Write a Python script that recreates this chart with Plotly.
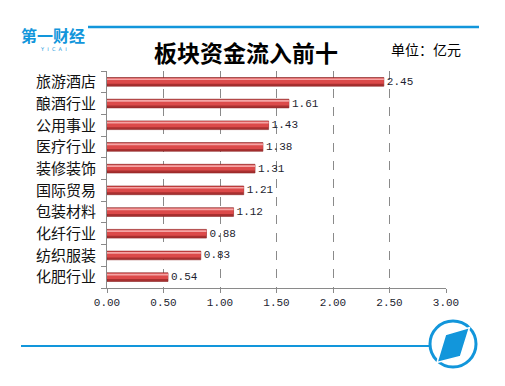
import plotly.graph_objects as go

categories = ["旅游酒店", "酿酒行业", "公用事业", "医疗行业", "装修装饰",
              "国际贸易", "包装材料", "化纤行业", "纺织服装", "化肥行业"]
values = [2.45, 1.61, 1.43, 1.38, 1.31, 1.21, 1.12, 0.88, 0.83, 0.54]
x_ticks = [0, 0.5, 1.0, 1.5, 2.0, 2.5, 3.0]
x_tick_labels = ["0.00", "0.50", "1.00", "1.50", "2.00", "2.50", "3.00"]

# bottom-to-top order for the category axis
cats_plot = categories[::-1]
vals_plot = values[::-1]

W, H = 505, 386
L, R, T, B = 107, 59, 71, 98
PW, PH = W - L - R, H - T - B


def px(xp):
    return (xp - L) / PW


def py(yp):
    return (H - B - yp) / PH


BLUE = "#1296db"
MONO = "Liberation Mono, DejaVu Sans Mono, monospace"
CJK = "Noto Sans CJK SC, sans-serif"

fig = go.Figure()
# dark base of the cylinder-like bar
fig.add_trace(go.Bar(
    y=cats_plot, x=vals_plot, orientation="h",
    width=0.40, offset=-0.20,
    marker=dict(color="#a83030", line=dict(color="#8a2424", width=0.6)),
    text=[f"{v:.2f}" for v in vals_plot], textposition="outside",
    constraintext="none",
    textfont=dict(family=MONO, size=11, color="#1e1e30"),
    cliponaxis=False, hoverinfo="skip", showlegend=False,
))
# main red body
fig.add_trace(go.Bar(
    y=cats_plot, x=vals_plot, orientation="h",
    width=0.27, offset=-0.09,
    marker=dict(color="#dc4a4a", line=dict(width=0)),
    hoverinfo="skip", showlegend=False,
))
# light highlight near the top
fig.add_trace(go.Bar(
    y=cats_plot, x=vals_plot, orientation="h",
    width=0.08, offset=0.08,
    marker=dict(color="#f4a4a4", line=dict(width=0)),
    hoverinfo="skip", showlegend=False,
))

fig.update_layout(
    width=W, height=H,
    margin=dict(l=L, r=R, t=T, b=B, pad=0),
    paper_bgcolor="white", plot_bgcolor="white",
    barmode="overlay",
    xaxis=dict(
        range=[0, 3.0], tickvals=x_ticks, ticktext=x_tick_labels,
        showgrid=True, gridcolor="#8a8a8a", griddash="dash", gridwidth=1,
        zeroline=False, showline=True, linecolor="#8a8a8a", linewidth=1,
        ticks="outside", ticklen=4, tickcolor="#8a8a8a",
        tickfont=dict(family=MONO, size=11, color="#1e1e30"),
        fixedrange=True, automargin=False,
    ),
    yaxis=dict(
        categoryorder="array", categoryarray=cats_plot,
        showgrid=False, zeroline=False, showline=True,
        linecolor="#8a8a8a", linewidth=1,
        ticks="outside", ticklen=5, tickcolor="#8a8a8a", tickson="boundaries",
        ticklabelstandoff=7,
        tickfont=dict(family=CJK, size=15, color="#111111"),
        range=[-0.5, 9.5], fixedrange=True, automargin=False,
    ),
    font=dict(family=CJK),
)

# title and unit
fig.add_annotation(text="<b>板块资金流入前十</b>", xref="paper", yref="paper",
                   x=px(246), y=py(52), showarrow=False,
                   font=dict(family=CJK, size=23, color="#000000"),
                   xanchor="center", yanchor="middle")
fig.add_annotation(text="单位：亿元", xref="paper", yref="paper",
                   x=px(426), y=py(49), showarrow=False,
                   font=dict(family=CJK, size=14, color="#000000"),
                   xanchor="center", yanchor="middle")

# top logo
fig.add_annotation(text="<b>第一财经</b>", xref="paper", yref="paper",
                   x=px(19), y=py(35), showarrow=False,
                   font=dict(family=CJK, size=16, color=BLUE),
                   xanchor="left", yanchor="middle")
fig.add_annotation(text="Y  I  C  A  I", xref="paper", yref="paper",
                   x=px(54), y=py(49), showarrow=False,
                   font=dict(family="DejaVu Sans", size=5, color=BLUE),
                   xanchor="center", yanchor="middle")

shapes = []
# top rule
shapes.append(dict(type="line", xref="paper", yref="paper",
                   x0=px(88), x1=px(479), y0=py(27), y1=py(27),
                   line=dict(color=BLUE, width=2.5)))
# bottom rule
shapes.append(dict(type="line", xref="paper", yref="paper",
                   x0=px(21), x1=px(430), y0=py(346), y1=py(346),
                   line=dict(color=BLUE, width=2)))
# bottom circle logo
cx, cy, r = 453, 344, 23
shapes.append(dict(type="circle", xref="paper", yref="paper",
                   x0=px(cx - r), x1=px(cx + r), y0=py(cy + r), y1=py(cy - r),
                   line=dict(color=BLUE, width=3), fillcolor="white"))
pts = [(445.5, 334.5), (469.5, 327.5), (460.5, 356.5), (437.0, 362.5)]
path = "M " + " L ".join(f"{px(a)},{py(b)}" for a, b in pts) + " Z"
shapes.append(dict(type="path", xref="paper", yref="paper", path=path,
                   fillcolor=BLUE, line=dict(color="white", width=1.5)))
fig.update_layout(shapes=shapes)

fig.write_html("out.html",
               config={"displayModeBar": False, "staticPlot": True},
               post_script="document.body.style.margin='0';document.body.style.padding='0';")
